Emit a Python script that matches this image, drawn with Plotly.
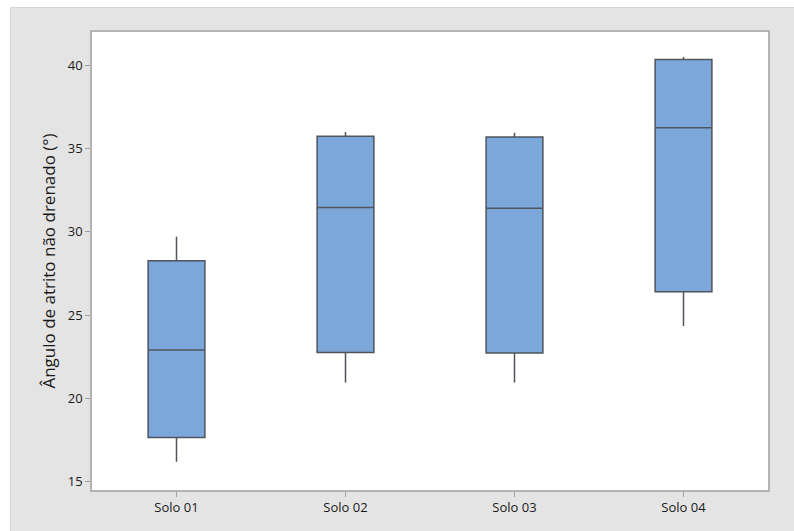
import plotly.graph_objects as go

# Summary statistics of undrained friction angle per soil
solos = ["Solo 01", "Solo 02", "Solo 03", "Solo 04"]
minimo = [16.2, 20.95, 20.95, 24.35]
q1 = [17.65, 22.76, 22.72, 26.4]
mediana = [22.9, 31.46, 31.42, 36.25]
q3 = [28.26, 35.74, 35.7, 40.35]
maximo = [29.7, 36.0, 35.95, 40.5]

y_ticks = [15, 20, 25, 30, 35, 40]

W, H = 794, 531
M_L, M_R, M_T, M_B = 92, 26, 32, 41
PW, PH = W - M_L - M_R, H - M_T - M_B

def px_x(x):
    return (x - M_L) / PW

def px_y(y):
    return (H - M_B - y) / PH

fig = go.Figure()
fig.add_trace(go.Box(
    x=solos,
    q1=q1,
    median=mediana,
    q3=q3,
    lowerfence=minimo,
    upperfence=maximo,
    width=0.336,
    whiskerwidth=0,
    boxpoints=False,
    fillcolor="#7ba7db",
    line=dict(color="#4f555c", width=1.5),
    hoverinfo="skip",
    showlegend=False,
))

# white page strips around the grey panel, and the panel's edge line
shapes = [
    dict(type="rect", xref="paper", yref="paper", layer="below",
         x0=px_x(-5), x1=px_x(W + 5), y0=px_y(7), y1=px_y(-5),
         fillcolor="white", line=dict(width=0)),
    dict(type="rect", xref="paper", yref="paper", layer="below",
         x0=px_x(-5), x1=px_x(10), y0=px_y(H + 5), y1=px_y(-5),
         fillcolor="white", line=dict(width=0)),
    dict(type="line", xref="paper", yref="paper", layer="below",
         x0=px_x(10), x1=px_x(W + 5), y0=px_y(7.5), y1=px_y(7.5),
         line=dict(color="#d6d6d6", width=1)),
    dict(type="line", xref="paper", yref="paper", layer="below",
         x0=px_x(10.5), x1=px_x(10.5), y0=px_y(7), y1=px_y(H + 5),
         line=dict(color="#d6d6d6", width=1)),
]

fig.update_layout(
    width=W, height=H,
    margin=dict(l=M_L, r=M_R, t=M_T, b=M_B, pad=0),
    paper_bgcolor="#e4e4e4",
    plot_bgcolor="white",
    font=dict(family="Open Sans, Noto Sans, sans-serif", color="#1a1a1a", size=13),
    shapes=shapes,
    xaxis=dict(
        type="category",
        range=[-0.5, 3.5],
        showgrid=False, zeroline=False,
        showline=True, mirror=True, linecolor="#b4b4b4", linewidth=1.5,
        ticks="outside", ticklen=5, tickcolor="#a0a0a0", tickwidth=1,
        tickfont=dict(size=13, color="#1a1a1a"),
    ),
    yaxis=dict(
        range=[14.5, 42.0],
        tickvals=y_ticks,
        showgrid=False, zeroline=False,
        showline=True, mirror=True, linecolor="#b4b4b4", linewidth=1.5,
        ticks="outside", ticklen=5, tickcolor="#a0a0a0", tickwidth=1,
        tickfont=dict(size=13, color="#1a1a1a"),
        title=dict(text="Ângulo de atrito não drenado (°)",
                   font=dict(size=17, color="#1a1a1a"), standoff=8),
    ),
)

fig.write_html("out.html")
